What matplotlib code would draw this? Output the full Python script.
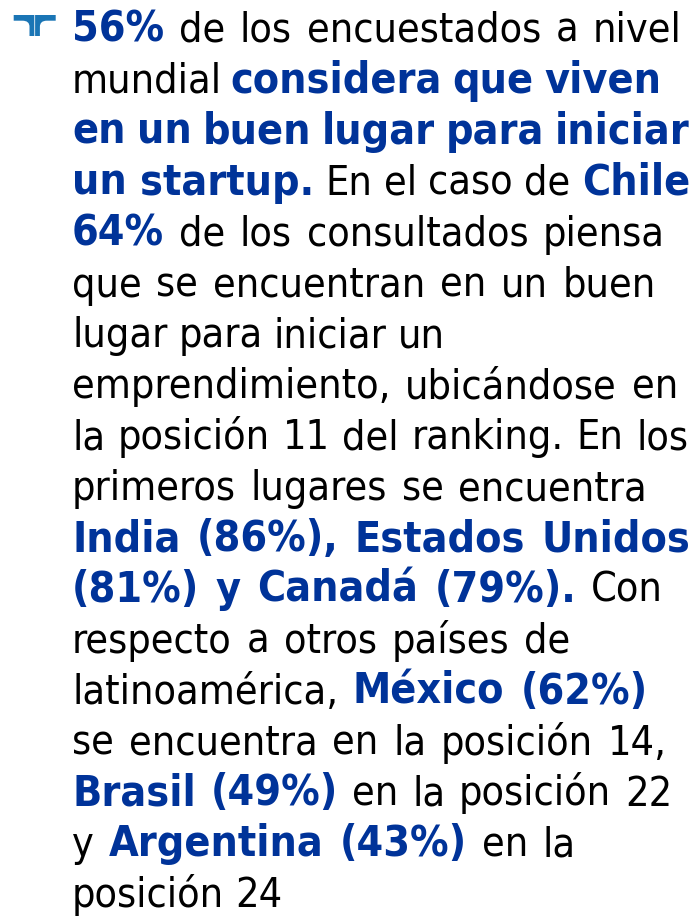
import matplotlib
matplotlib.use('Agg')
import numpy as np
import matplotlib.pyplot as plt
from matplotlib import font_manager as fm
from matplotlib.path import Path
from matplotlib.patches import PathPatch

W, H = 700, 917
BLUE = '#003399'
ICON = '#1a75b5'

# paragraph lines as (text, is_bold) segments
lines = [
    [("56%", 1), (" de los encuestados a nivel", 0)],
    [("mundial ", 0), ("considera que viven", 1)],
    [("en un buen lugar para iniciar", 1)],
    [("un startup.", 1), (" En el caso de ", 0), ("Chile", 1)],
    [("64%", 1), (" de los consultados piensa", 0)],
    [("que se encuentran en un buen", 0)],
    [("lugar para iniciar un", 0)],
    [("emprendimiento, ubicándose en", 0)],
    [("la posición 11 del ranking. En los", 0)],
    [("primeros lugares se encuentra", 0)],
    [("India (86%), Estados Unidos", 1)],
    [("(81%) y Canadá (79%).", 1), (" Con", 0)],
    [("respecto a otros países de", 0)],
    [("latinoamérica, ", 0), ("México (62%)", 1)],
    [("se encuentra en la posición 14,", 0)],
    [("Brasil (49%)", 1), (" en la posición 22", 0)],
    [("y ", 0), ("Argentina (43%)", 1), (" en la", 0)],
    [("posición 24", 0)],
]
# right edges of each line in the reference (pixels)
right_edges = [683, 660, 690, 690, 688, 683, 445, 685, 688, 680,
               693, 690, 570, 657, 668, 672, 578, 283]

# condensed DejaVu when present (close to the reference's narrow face)
cond = [f for f in fm.fontManager.ttflist
        if f.name == 'DejaVu Sans' and 'ondensed' in f.fname]
reg_f = [f.fname for f in cond if 'Bold' not in f.fname and 'Oblique' not in f.fname]
bold_f = [f.fname for f in cond if 'Bold' in f.fname and 'Oblique' not in f.fname]
if reg_f and bold_f:
    FP_REG = fm.FontProperties(fname=reg_f[0])
    FP_BOLD = fm.FontProperties(fname=bold_f[0])
else:
    FP_REG = fm.FontProperties(family='Roboto', weight='normal')
    FP_BOLD = fm.FontProperties(family='Roboto', weight='bold')

SIZES = {0: 29.6, 1: 30.8}

fig = plt.figure(figsize=(W / 100, H / 100), dpi=100)
ax = fig.add_axes([0, 0, 1, 1])
ax.set_xlim(0, W)
ax.set_ylim(H, 0)
ax.axis('off')
renderer = fig.canvas.get_renderer()


def fprop(bold):
    fp = (FP_BOLD if bold else FP_REG).copy()
    fp.set_size(SIZES[bold])
    return fp


_cache = {}


def seg_width(txt, bold):
    key = (txt, bold)
    if key in _cache:
        return _cache[key]
    fp = fprop(bold)
    t1 = ax.text(0, 0, "|" + txt + "|", fontproperties=fp)
    t2 = ax.text(0, 0, "||", fontproperties=fp)
    w = t1.get_window_extent(renderer).width - t2.get_window_extent(renderer).width
    t1.remove(); t2.remove()
    _cache[key] = w
    return w


X0 = 72
tgt = np.array(right_edges) - X0
BASE0 = 42.0
STEP = 50.9
for i, ln in enumerate(lines):
    words = []  # (word, bold, bold flag of the space before it or None)
    prev_space = None
    for t, b in ln:
        parts = t.split(' ')
        for j, p in enumerate(parts):
            if j > 0:
                prev_space = b
            if p:
                words.append((p, b, prev_space if words else None))
                prev_space = None
    wsum = sum(seg_width(w, b) for w, b, _ in words)
    ssum = sum(seg_width(' ', sb) for _, _, sb in words if sb is not None)
    ngap = sum(1 for *_, sb in words if sb is not None)
    extra = (tgt[i] - wsum - ssum) / ngap if ngap else 0.0
    extra = float(np.clip(extra, -3, 3))
    x = X0
    y = BASE0 + i * STEP
    for w, b, sb in words:
        if sb is not None:
            x += seg_width(' ', sb) + extra
        ax.text(x, y, w, fontproperties=fprop(b),
                color=BLUE if b else 'black', va='baseline', ha='left')
        x += seg_width(w, b)

# logo icon
c = 34.7
g = 0.4
hw = 21.0
top, bar_b, bot = 15.0, 20.7, 36.0
sw = 4.8


def piece(sign):
    xs = lambda d: c + sign * d
    verts = [(xs(hw), top), (xs(g), top), (xs(g), bot), (xs(g + sw), bot),
             (xs(g + sw), bar_b + 6), (xs(g + sw), bar_b), (xs(g + sw + 7), bar_b),
             (xs(hw), bar_b), (xs(hw), top)]
    codes = [Path.MOVETO, Path.LINETO, Path.LINETO, Path.LINETO, Path.LINETO,
             Path.CURVE3, Path.CURVE3, Path.LINETO, Path.CLOSEPOLY]
    return Path(verts, codes)


for s in (-1, 1):
    ax.add_patch(PathPatch(piece(s), facecolor=ICON, edgecolor='none'))

fig.savefig('out.png', dpi=100, facecolor='white')
